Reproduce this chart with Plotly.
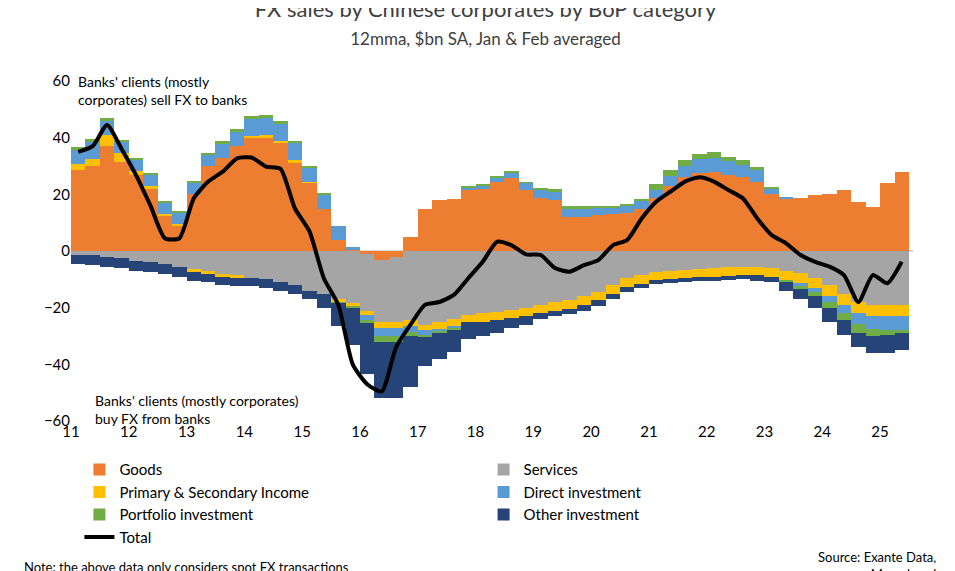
import plotly.graph_objects as go

quarters = [2011 + i * 0.25 + 0.125 for i in range(58)]

goods = [28.6,30,37,31.5, 26.8,22,12.7,9, 20,30,32.7,37, 40,40,38,31, 24,15,4,0.5,
         -1,-3,-2,5, 15,18,18.5,21.5, 22,24.5,25.6,21.5, 18.6,18,12,12, 12.7,13,13.3,15,
         18.6,23,26,27.4, 28,26.8,26,24.5, 20,18.6,18.6,19.8, 20,21.5,17.4,15.6, 23.9,28]
services = [-1.5,-1.5,-2,-2.5, -3.5,-4,-4.5,-5.5, -6.5,-7,-8,-8.5, -9.5,-10,-11,-12, -14,-15,-17,-18.5,
            -20,-22,-23,-24.5, -26,-25,-24,-22.5, -22,-21.5,-20.8,-20, -19,-18,-17.3,-16, -14.4,-12,-9.6,-8.5,
            -7.3,-7,-6.7,-6.3, -6.1,-5.8,-5.5,-5.5, -6.1,-7,-7.9,-9.5, -12,-15,-17.9,-19, -19,-19]
primary = [2,2.5,4,3, 1.5,1,0.5,0.5, -1,-1,-1,-1, 0.5,1,1,1, 0.5,0,-1,-1,
           -1.5,-2,-2,-2, -2,-2.5,-2.5,-2.5, -3,-3,-3,-3, -3,-3,-3,-3, -3,-3,-3,-3,
           -3,-3,-3,-3, -3,-3,-3,-3, -3,-3.5,-3.5,-3.5, -4,-4,-4,-4, -4,-4]
direct = [5,6,5,4, 4,4,4,4, 4,4,5,5, 6,6,6,6, 5,5,5,1,
          -2,-3,-3,-2, -1.5,-1,-1,1, 1,1.5,2,2.5, 3,3,3,3, 2.5,2.5,2.5,2.5,
          3,3.5,4,5, 5,5,4.5,4, 2,0.5,-1,-1.5, -2,-3,-4,-4.5, -5,-5]
portfolio = [1,1,1,0.5, 0.5,0.5,0.3,0.3, 0.5,0.5,1,1, 1,1,1,1, 0.5,0.3,-0.5,-0.5,
             -1,-2,-2,-1.5, -1,-0.5,-0.3,0.3, 0.5,0.5,0.5,0.3, 0.5,0.8,1,1, 0.5,0.5,0.8,1,
             2,2,2,2, 2,1.5,1.5,1, 0.5,-0.5,-1,-1.5, -2,-2.5,-3,-2.5, -1.5,-1]
other = [-3,-3.5,-3.5,-3.5, -3.5,-3.5,-3.5,-3.5, -3,-3,-3,-3, -3,-3,-3,-3, -3,-5,-8,-13,
         -18,-20,-20,-18, -10,-9,-8,-6, -5,-4.5,-3.5,-3, -2,-2,-2,-2, -2,-2,-1.8,-1.5,
         -1.3,-1.3,-1.3,-1.3, -1.5,-1.5,-1.5,-2, -2,-3,-3.5,-4, -5,-5,-5,-6, -6.5,-6]
total = [35,37,44.5,36, 26.8,16,4.5,4.5, 18.6,24.5,28,32.7, 33,29.8,29,15, 7,-9.6,-19,-40,
         -47,-49.6,-34,-26, -19,-18,-15.5,-9.6, -3.8,3.3,2,-1.2, -1.4,-6,-7.3,-5, -3.2,2,3.9,11.5,
         17.4,21,24.5,26, 24.5,21.5,18.6,11.5, 5.6,2.7,-1.4,-3.8, -5.5,-8.5,-18,-8.5, -11.4,-3.8]

years = list(range(2011, 2026))
year_labels = [str(y)[2:] for y in years]

series = [("Goods", goods, "#ED7D31", "legend"), ("Services", services, "#A5A5A5", "legend2"),
          ("Primary & Secondary Income", primary, "#FFC000", "legend"),
          ("Direct investment", direct, "#5B9BD5", "legend2"),
          ("Portfolio investment", portfolio, "#70AD47", "legend"),
          ("Other investment", other, "#264478", "legend2")]

fig = go.Figure()
for name, vals, col, lg in series:
    fig.add_trace(go.Bar(x=quarters, y=vals, name=name, marker_color=col,
                         marker_line_width=0, width=0.25, legend=lg))
fig.add_trace(go.Scatter(x=quarters, y=total, name="Total", mode="lines", legend="legend",
                         line=dict(color="black", width=4, shape="spline", smoothing=0.6)))

fnt = "Lato"
leg_common = dict(orientation="v", yanchor="top", xanchor="left", font=dict(size=15),
                  itemwidth=30, tracegroupgap=0, bgcolor="rgba(0,0,0,0)", traceorder="normal")
fig.update_layout(
    barmode="relative", bargap=0,
    width=955, height=571, margin=dict(l=63, r=50, t=73, b=158, autoexpand=False),
    paper_bgcolor="white", plot_bgcolor="white",
    font=dict(family=fnt, size=15, color="#000000"),
    title=dict(text="FX sales by Chinese corporates by BoP category<br><span style='font-size:17px'>12mma, $bn SA, Jan & Feb averaged</span>",
               x=0.5, xanchor="center", y=0.985, yanchor="top",
               font=dict(size=22, color="#404040", family=fnt)),
    xaxis=dict(range=[2011, 2025.57], tickvals=years, ticktext=year_labels, showgrid=False,
               showline=False, ticks="", tickfont=dict(size=15)),
    yaxis=dict(range=[-60, 60], dtick=20, showgrid=False, zeroline=True, zerolinecolor="#D9D9D9",
               zerolinewidth=2, tickfont=dict(size=15), ticks="", showline=False),
    legend=dict(x=0.01, y=-0.095, **leg_common),
    legend2=dict(x=0.49, y=-0.095, **leg_common),
    showlegend=True,
)
fig.add_annotation(text="Banks' clients (mostly<br>corporates) sell FX to banks", xref="paper", yref="paper",
                   x=0.006, y=1.03, xanchor="left", yanchor="top", showarrow=False, align="left",
                   font=dict(size=14))
fig.add_annotation(text="Banks' clients (mostly corporates)<br>buy FX from banks", xref="paper", yref="paper",
                   x=0.026, y=0.09, xanchor="left", yanchor="top", showarrow=False, align="left",
                   font=dict(size=14))
fig.add_annotation(text="Note: the above data only considers spot FX transactions", xref="paper", yref="paper",
                   x=-0.058, y=-0.4, xanchor="left", yanchor="top", showarrow=False, align="left",
                   font=dict(size=13))
fig.add_annotation(text="Source: Exante Data,<br>Macrobond", xref="paper", yref="paper",
                   x=1.03, y=-0.37, xanchor="right", yanchor="top", showarrow=False, align="right",
                   font=dict(size=13))
fig.write_html("out.html")
